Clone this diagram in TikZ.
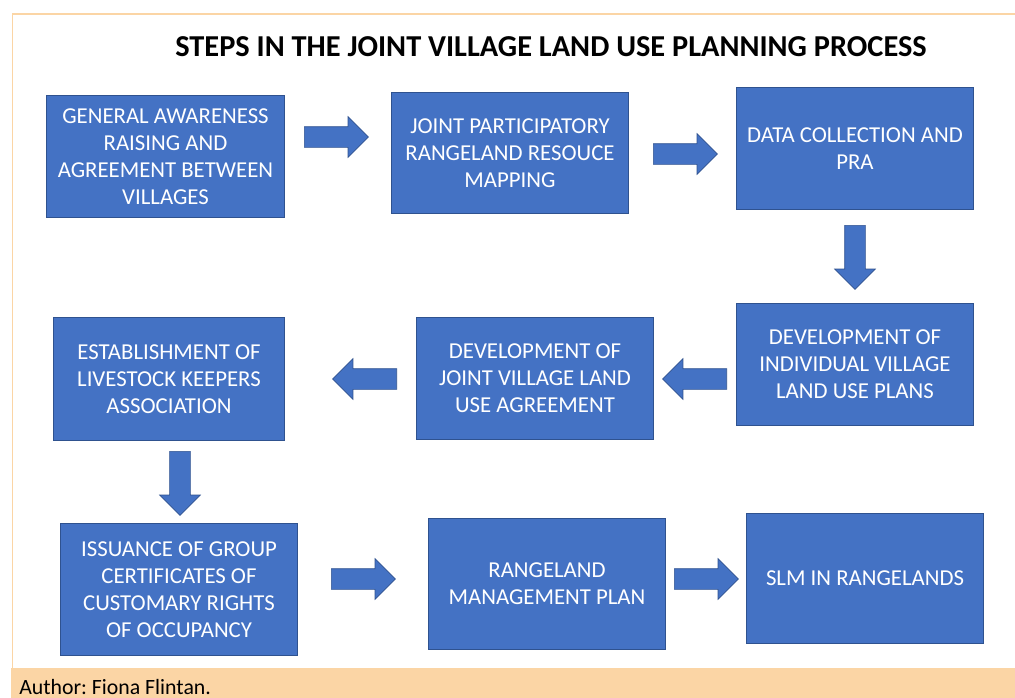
\documentclass[tikz,border=0pt]{standalone}
\usepackage{fontspec}
\setmainfont{Carlito}
\usetikzlibrary{shapes.arrows}

\definecolor{stepblue}{RGB}{68,114,196}
\definecolor{stepedge}{RGB}{47,82,143}
\definecolor{peach}{RGB}{251,213,165}

\begin{document}
\frenchspacing
\begin{tikzpicture}[x=0.025cm,y=-0.025cm,
  stepbox/.style={draw=stepedge, fill=stepblue, line width=0.7pt, text=white, align=center,
    minimum width=5.9cm, minimum height=3.025cm, inner sep=0pt,
    font=\fontsize{16.2}{19.2}\selectfont},
  blockarrow/.style={single arrow, draw=stepedge, fill=stepblue, line width=0.5pt,
    minimum height=1.6cm, minimum width=1cm, inner xsep=0pt, inner ysep=0.25cm,
    single arrow tip angle=90, anchor=tail}]
\useasboundingbox (0,0) rectangle (1015,698);
\draw[peach, line width=0.8pt] (1016,14) -- (12.5,14) -- (12.5,668);
\fill[peach] (11,668) rectangle (1016,699);

\node[font=\fontsize{21.6}{26}\selectfont\bfseries] (title) at (551,47) {STEPS IN THE JOINT VILLAGE LAND USE PLANNING PROCESS};
\node[anchor=base west, inner sep=0pt, font=\fontsize{15.5}{18}\selectfont] (author) at (19,694) {Author: Fiona Flintan.};

\node[stepbox, minimum width=5.925cm] (awareness) at (165.5,156.5) {GENERAL AWARENESS\\RAISING AND\\AGREEMENT BETWEEN\\VILLAGES};
\node[stepbox, minimum height=3cm] (mapping) at (510,153) {JOINT PARTICIPATORY\\RANGELAND RESOUCE\\MAPPING};
\node[stepbox] (data) at (855,148.5) {DATA COLLECTION AND\\PRA};
\node[stepbox] (villageplans) at (855,364.5) {DEVELOPMENT OF\\INDIVIDUAL VILLAGE\\LAND USE PLANS};
\node[stepbox] (agreement) at (535,378.5) {DEVELOPMENT OF\\JOINT VILLAGE LAND\\USE AGREEMENT};
\node[stepbox, minimum width=5.75cm, minimum height=3.05cm] (association) at (169,379) {ESTABLISHMENT OF\\LIVESTOCK KEEPERS\\ASSOCIATION};
\node[stepbox, minimum height=3.275cm] (certificates) at (179,589.5) {ISSUANCE OF GROUP\\CERTIFICATES OF\\CUSTOMARY RIGHTS\\OF OCCUPANCY};
\node[stepbox, minimum height=3.25cm] (mgmtplan) at (547,584) {RANGELAND\\MANAGEMENT PLAN};
\node[stepbox, minimum height=3.25cm] (slm) at (865,578.5) {SLM IN RANGELANDS};

\node[blockarrow] (a1) at (304,137) {};
\node[blockarrow] (a2) at (653,154) {};
\node[blockarrow, rotate=-90] (a3) at (855,225) {};
\node[blockarrow, rotate=180] (a4) at (727,379) {};
\node[blockarrow, rotate=180] (a5) at (397,379) {};
\node[blockarrow, rotate=-90] (a6) at (180,451) {};
\node[blockarrow] (a7) at (331,579) {};
\node[blockarrow] (a8) at (674,579) {};
\end{tikzpicture}
\end{document}
